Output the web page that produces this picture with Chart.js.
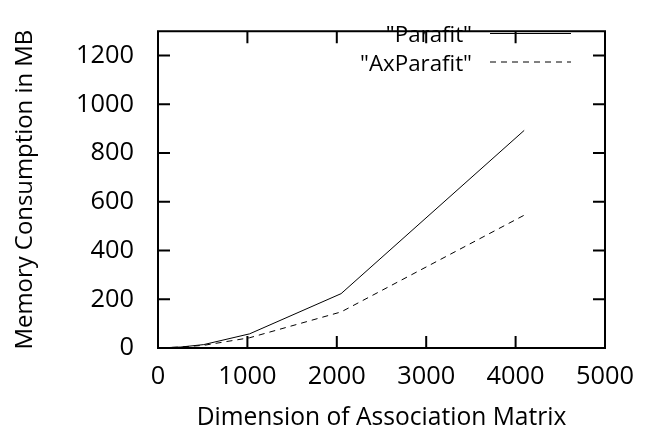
<!DOCTYPE html>
<html>
<head>
<meta charset="utf-8">
<script src="https://cdn.jsdelivr.net/npm/chart.js@4.4.1/dist/chart.umd.min.js"></script>
<style>
  html, body { margin: 0; padding: 0; background: #fff; }
  #wrap { width: 648px; height: 433px; }
</style>
</head>
<body>
<div id="wrap"><canvas id="memChart"></canvas></div>
<script>
const dims = [32, 64, 128, 256, 512, 1024, 2048, 4096];
const parafit = [0.5, 1, 2, 4, 14, 58, 223, 893];
const axParafit = [0.5, 1, 2, 4, 11, 42, 148, 545];
const xTicks = [0, 1000, 2000, 3000, 4000, 5000];
const yTicks = [0, 200, 400, 600, 800, 1000, 1200];

const fontFamily = '"Open Sans", sans-serif';
const xTitle = 'Dimension of Association Matrix';
const yTitle = 'Memory Consumption in MB';

// pick a font size so that a text gets a given width in px
const measureCtx = document.createElement('canvas').getContext('2d');
function fitSize(text, width) {
  measureCtx.font = '100px ' + fontFamily;
  return Math.round(1000 * width / measureCtx.measureText(text).width) / 10;
}
const tickSize = fitSize('1000', 58);
const keySize = fitSize('"Parafit"', 86);
const xTitleSize = fitSize(xTitle, 370);
const yTitleSize = fitSize(yTitle, 320);

// gnuplot style: box border, inward mirrored ticks, key top right
const gnuplotFrame = {
  id: 'gnuplotFrame',
  afterDraw(chart) {
    const ctx = chart.ctx;
    const a = chart.chartArea;
    const xs = chart.scales.x, ys = chart.scales.y;
    const tl = 12;
    ctx.save();
    ctx.strokeStyle = '#000';
    ctx.lineWidth = 2;
    ctx.strokeRect(a.left, a.top, a.right - a.left, a.bottom - a.top);
    ctx.beginPath();
    xTicks.forEach(v => {
      const px = xs.getPixelForValue(v);
      ctx.moveTo(px, a.bottom); ctx.lineTo(px, a.bottom - tl);
      ctx.moveTo(px, a.top); ctx.lineTo(px, a.top + tl);
    });
    yTicks.forEach(v => {
      const py = ys.getPixelForValue(v);
      ctx.moveTo(a.left, py); ctx.lineTo(a.left + tl, py);
      ctx.moveTo(a.right, py); ctx.lineTo(a.right - tl, py);
    });
    ctx.stroke();

    // key
    ctx.font = keySize + 'px ' + fontFamily;
    ctx.fillStyle = '#000';
    ctx.textAlign = 'right';
    ctx.textBaseline = 'alphabetic';
    ctx.lineWidth = 1;
    chart.data.datasets.forEach((ds, i) => {
      const y = 33.5 + i * 28.5;
      ctx.fillText('"' + ds.label + '"', 472, y + 8.5);
      ctx.setLineDash(ds.borderDash || []);
      ctx.beginPath();
      ctx.moveTo(490, y);
      ctx.lineTo(571, y);
      ctx.stroke();
    });
    ctx.restore();
  }
};

new Chart(document.getElementById('memChart'), {
  type: 'line',
  data: {
    datasets: [{
      label: 'Parafit',
      data: dims.map((d, i) => ({ x: d, y: parafit[i] })),
      borderColor: '#000',
      borderWidth: 1,
      pointRadius: 0,
      tension: 0
    }, {
      label: 'AxParafit',
      data: dims.map((d, i) => ({ x: d, y: axParafit[i] })),
      borderColor: '#000',
      borderWidth: 1,
      borderDash: [6, 5],
      pointRadius: 0,
      tension: 0
    }]
  },
  options: {
    responsive: true,
    maintainAspectRatio: false,
    animation: false,
    layout: { padding: { left: 0, right: 43, top: 8, bottom: 0 } },
    plugins: {
      legend: { display: false },
      tooltip: { enabled: false }
    },
    scales: {
      x: {
        type: 'linear',
        min: 0,
        max: 5000,
        grid: { display: false },
        border: { display: false },
        afterBuildTicks: s => { s.ticks = xTicks.map(v => ({ value: v })); },
        afterFit: s => { s.height = 85; },
        ticks: {
          color: '#000',
          padding: 6,
          maxRotation: 0,
          callback: v => String(v),
          font: { family: fontFamily, size: tickSize }
        },
        title: {
          display: true,
          text: xTitle,
          color: '#000',
          padding: { top: 0, bottom: 0 },
          font: { family: fontFamily, size: xTitleSize }
        }
      },
      y: {
        type: 'linear',
        min: 0,
        max: 1300,
        grid: { display: false },
        border: { display: false },
        afterBuildTicks: s => { s.ticks = yTicks.map(v => ({ value: v })); },
        afterFit: s => { s.width = 158; },
        ticks: {
          color: '#000',
          padding: 16,
          callback: v => String(v),
          font: { family: fontFamily, size: tickSize }
        },
        title: {
          display: true,
          text: yTitle,
          color: '#000',
          padding: { top: 11, bottom: 0 },
          font: { family: fontFamily, size: yTitleSize }
        }
      }
    }
  },
  plugins: [gnuplotFrame]
});
</script>
</body>
</html>
